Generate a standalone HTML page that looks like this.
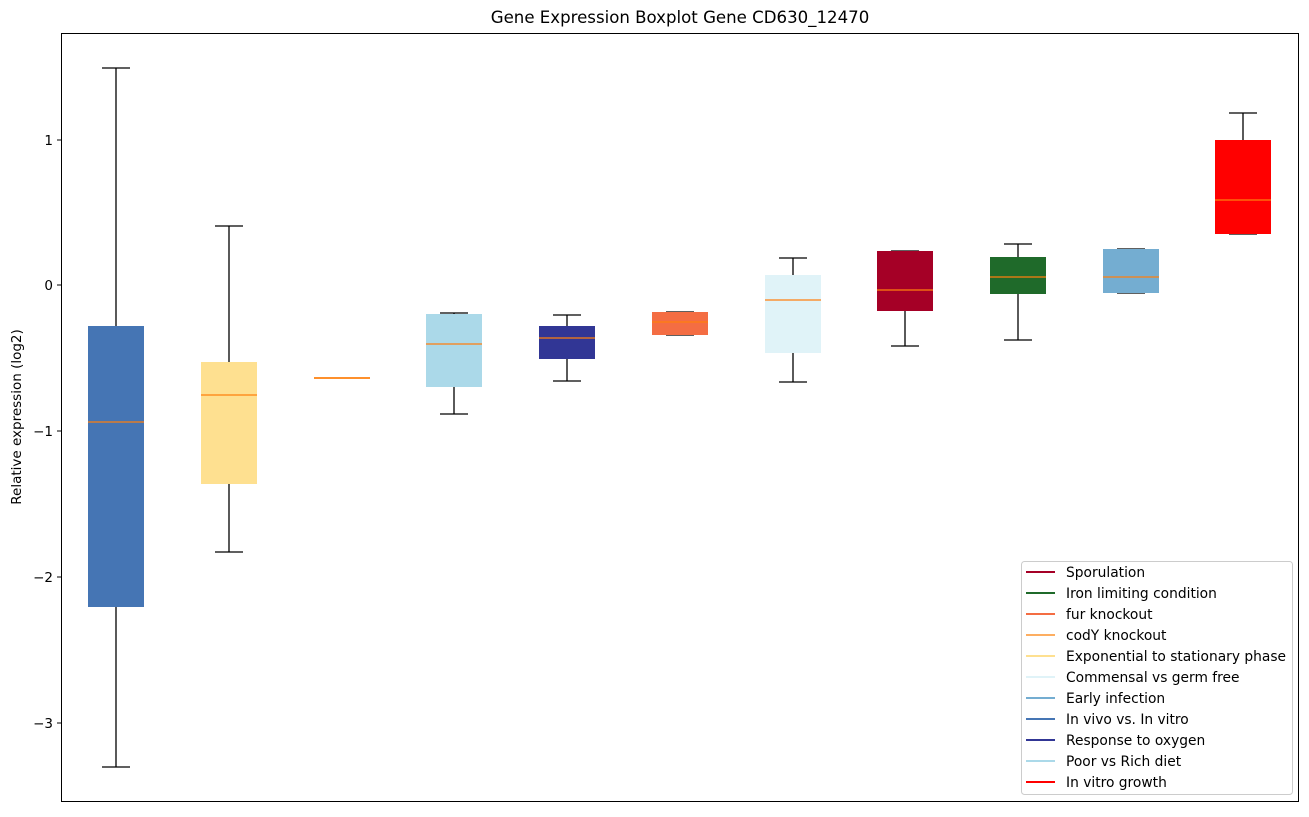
<!DOCTYPE html>
<html><head><meta charset="utf-8"><style>body{margin:0;background:#fff}</style></head><body>
<svg width="1309" height="812" xmlns="http://www.w3.org/2000/svg" font-family="DejaVu Sans, Liberation Sans, sans-serif">
<rect width="1309" height="812" fill="#fff"/>
<text x="680" y="23" font-size="16.6" text-anchor="middle">Gene Expression Boxplot Gene CD630_12470</text>
<g stroke="#000" stroke-width="1.3" fill="none">
<line x1="116" y1="68" x2="116" y2="767"/><line x1="102" y1="68" x2="130" y2="68"/><line x1="102" y1="767" x2="130" y2="767"/>
<line x1="229" y1="226" x2="229" y2="552"/><line x1="215" y1="226" x2="243" y2="226"/><line x1="215" y1="552" x2="243" y2="552"/>
<line x1="454" y1="313" x2="454" y2="414"/><line x1="440" y1="313" x2="468" y2="313"/><line x1="440" y1="414" x2="468" y2="414"/>
<line x1="567" y1="315" x2="567" y2="381"/><line x1="553" y1="315" x2="581" y2="315"/><line x1="553" y1="381" x2="581" y2="381"/>
<line x1="666" y1="312" x2="694" y2="312"/><line x1="666" y1="335" x2="694" y2="335"/>
<line x1="793" y1="258" x2="793" y2="382"/><line x1="779" y1="258" x2="807" y2="258"/><line x1="779" y1="382" x2="807" y2="382"/>
<line x1="905" y1="251" x2="905" y2="346"/><line x1="891" y1="251" x2="919" y2="251"/><line x1="891" y1="346" x2="919" y2="346"/>
<line x1="1018" y1="244" x2="1018" y2="340"/><line x1="1004" y1="244" x2="1032" y2="244"/><line x1="1004" y1="340" x2="1032" y2="340"/>
<line x1="1117" y1="249" x2="1145" y2="249"/><line x1="1117" y1="293" x2="1145" y2="293"/>
<line x1="1243" y1="113" x2="1243" y2="140"/><line x1="1229" y1="113" x2="1257" y2="113"/><line x1="1229" y1="234" x2="1257" y2="234"/>
</g>
<g>
<rect x="88" y="326" width="56" height="281" fill="#4575b4"/>
<rect x="201" y="362" width="56" height="122" fill="#fee090"/>
<rect x="314" y="377" width="56" height="2" fill="#fdae61"/>
<rect x="426" y="314" width="56" height="73" fill="#abd9e9"/>
<rect x="539" y="326" width="56" height="33" fill="#313695"/>
<rect x="652" y="312" width="56" height="23" fill="#f46d43"/>
<rect x="765" y="275" width="56" height="78" fill="#e0f3f8"/>
<rect x="877" y="251" width="56" height="60" fill="#a50026"/>
<rect x="990" y="257" width="56" height="37" fill="#1f6a2a"/>
<rect x="1103" y="249" width="56" height="44" fill="#74add1"/>
<rect x="1215" y="140" width="56" height="94" fill="#ff0000"/>
</g>
<g stroke="#ff7f0e" stroke-width="1.3">
<line x1="88" y1="422" x2="144" y2="422"/><line x1="201" y1="395" x2="257" y2="395"/><line x1="314" y1="378" x2="370" y2="378"/>
<line x1="426" y1="344" x2="482" y2="344"/><line x1="539" y1="338" x2="595" y2="338"/><line x1="652" y1="322" x2="708" y2="322"/>
<line x1="765" y1="300" x2="821" y2="300"/><line x1="877" y1="290" x2="933" y2="290"/><line x1="990" y1="277" x2="1046" y2="277"/>
<line x1="1103" y1="277" x2="1159" y2="277"/><line x1="1215" y1="200" x2="1271" y2="200"/>
</g>
<rect x="61.5" y="33.5" width="1237" height="768" fill="none" stroke="#000" stroke-width="1"/>
<g stroke="#000"><line x1="57" y1="140" x2="61" y2="140"/><line x1="57" y1="285" x2="61" y2="285"/><line x1="57" y1="431" x2="61" y2="431"/><line x1="57" y1="577" x2="61" y2="577"/><line x1="57" y1="723" x2="61" y2="723"/></g>
<g font-size="13.5" text-anchor="end"><text x="53" y="145">1</text><text x="53" y="290">0</text><text x="53" y="436">−1</text><text x="53" y="582">−2</text><text x="53" y="728">−3</text></g>
<text transform="translate(21,417) rotate(-90)" font-size="13.5" text-anchor="middle">Relative expression (log2)</text>
<rect x="1021.5" y="561.5" width="271" height="233" rx="3" fill="#fff" stroke="#ccc"/>
<g stroke-width="2">
<line x1="1026" y1="572" x2="1055" y2="572" stroke="#a50026"/>
<line x1="1026" y1="593" x2="1055" y2="593" stroke="#1f6a2a"/>
<line x1="1026" y1="614" x2="1055" y2="614" stroke="#f46d43"/>
<line x1="1026" y1="635" x2="1055" y2="635" stroke="#fdae61"/>
<line x1="1026" y1="656" x2="1055" y2="656" stroke="#fee090"/>
<line x1="1026" y1="677" x2="1055" y2="677" stroke="#e0f3f8"/>
<line x1="1026" y1="698" x2="1055" y2="698" stroke="#74add1"/>
<line x1="1026" y1="719" x2="1055" y2="719" stroke="#4575b4"/>
<line x1="1026" y1="740" x2="1055" y2="740" stroke="#313695"/>
<line x1="1026" y1="761" x2="1055" y2="761" stroke="#abd9e9"/>
<line x1="1026" y1="782" x2="1055" y2="782" stroke="#ff0000"/>
</g>
<g font-size="13.8">
<text x="1066" y="577">Sporulation</text><text x="1066" y="598">Iron limiting condition</text><text x="1066" y="619">fur knockout</text>
<text x="1066" y="640">codY knockout</text><text x="1066" y="661">Exponential to stationary phase</text><text x="1066" y="682">Commensal vs germ free</text>
<text x="1066" y="703">Early infection</text><text x="1066" y="724">In vivo vs. In vitro</text><text x="1066" y="745">Response to oxygen</text>
<text x="1066" y="766">Poor vs Rich diet</text><text x="1066" y="787">In vitro growth</text>
</g>
</svg>
</body></html>
